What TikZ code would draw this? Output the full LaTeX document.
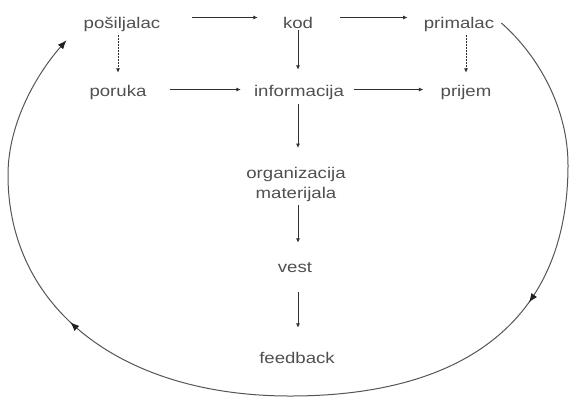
\documentclass[tikz,border=0pt]{standalone}
\usepackage{fontspec}
\setmainfont{Liberation Sans}[FakeStretch=1.2]
\usetikzlibrary{arrows.meta,decorations.markings}
\definecolor{txt}{HTML}{505050}
\definecolor{ln}{HTML}{303030}
\definecolor{arcc}{HTML}{555555}
\definecolor{tipc}{HTML}{202020}
\begin{document}
\begin{tikzpicture}[x=1pt,y=-1pt,
 lbl/.style={inner sep=0pt, text=txt, font=\fontsize{15.5}{20}\selectfont, text height=11pt, text depth=4pt, anchor=base},
 lblm/.style={inner sep=0pt, text=txt, font=\fontsize{15.5}{20}\selectfont, align=center},
 arr/.style={draw=ln, line width=1pt, -{Latex[length=4.5pt,width=4pt]}},
 dotarr/.style={arr, dash pattern=on 1.6pt off 1.4pt},
 loopline/.style={draw=arcc, line width=1pt},
 bigtip/.style={-{Latex[length=9pt,width=7pt,color=tipc]}}]
\useasboundingbox (0,0) rectangle (569,400);
\fill[white] (0,0) rectangle (569,400);

\node[lbl] (posilj) at (122,28) {pošiljalac};
\node[lbl] (kod) at (298,28) {kod};
\node[lbl] (prim) at (459,28) {primalac};
\node[lbl] (poruka) at (118,96) {poruka};
\node[lbl] (info) at (299,96) {informacija};
\node[lbl] (prijem) at (466,96) {prijem};
\node[lblm] (org) at (296,184.5) {organizacija\\materijala};
\node[lbl] (vest) at (295,272.7) {vest};
\node[lbl] (fb) at (297,363) {feedback};

% horizontal arrows
\draw[arr, shorten <=32pt, shorten >=25pt] ([yshift=7pt]posilj.east) -- ([yshift=7pt]kod.west);
\draw[arr, shorten <=27pt, shorten >=16pt] ([yshift=7pt]kod.east) -- ([yshift=7pt]prim.west);
\draw[arr, shorten <=23pt, shorten >=13pt] ([yshift=3pt]poruka.east) -- ([yshift=3pt]info.west);
\draw[arr, shorten <=10pt, shorten >=17pt] ([yshift=3pt]info.east) -- ([yshift=3pt]prijem.west);

% vertical arrows
\draw[arr, shorten <=2pt, shorten >=15pt] (kod.base) -- (kod.base |- info.north);
\draw[dotarr, shorten <=3pt, shorten >=12pt] (posilj.south -| poruka.north) -- (poruka.north);
\draw[dotarr, shorten <=3pt, shorten >=12pt] (prim.south -| prijem.north) -- (prijem.north);
\draw[arr, shorten <=3.5pt, shorten >=19pt] (info.south -| kod.base) -- (kod.base |- org.north);
\draw[arr, shorten <=3.3pt, shorten >=18.7pt] (org.south -| kod.base) -- (kod.base |- vest.north);
\draw[arr, shorten <=15pt, shorten >=24pt] (vest.south -| kod.base) -- (kod.base |- fb.north);

% feedback loop
\coordinate (aS) at ([shift={(7pt,1.5pt)}]prim.east);
\coordinate (aE) at ([shift={(-17pt,-8pt)}]posilj.south west);
\coordinate (aR) at (568,165);
\coordinate (aB) at (290,396);
\coordinate (aL) at (8,175);

\draw[loopline, decoration={markings, mark=at position 0.535 with {\arrow{Latex[length=9pt,width=7pt,color=tipc]}}}, postaction={decorate}]
  (aS) .. controls (540,57) and (568,110) .. (aR) .. controls (568,315) and (471,396) .. (aB);
\draw[loopline, bigtip, decoration={markings, mark=at position 0.43 with {\arrow{Latex[length=9pt,width=7pt,color=tipc]}}}, postaction={decorate}]
  (aB) .. controls (121,396) and (8,308) .. (aL) .. controls (8,120) and (40,70) .. (aE);
\end{tikzpicture}
\end{document}
